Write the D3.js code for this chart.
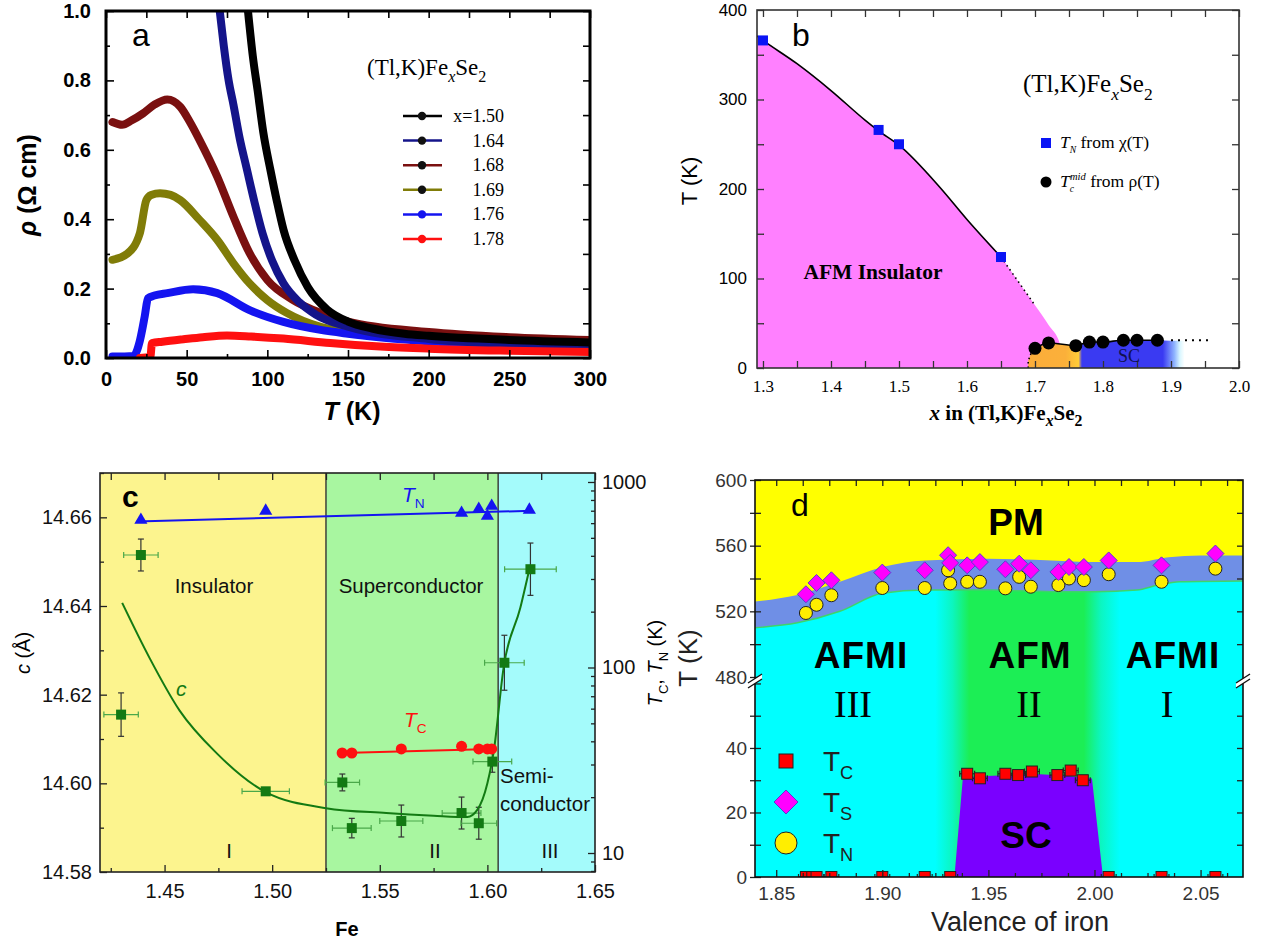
<!DOCTYPE html>
<html>
<head>
<meta charset="utf-8">
<script src="https://cdn.jsdelivr.net/npm/d3@7"></script>
<style>
body { margin: 0; background: #fff; }
svg { display: block; }
</style>
</head>
<body>
<div id="chart"></div>
<script>
// ---------- panel a : rho(T), pairs of [T (K), rho (Ohm cm)]
const rho150 = [[88,1.0],[91,0.87],[94,0.77],[97.5,0.65],[102,0.54],[106,0.45],[110,0.37],[117,0.28],[125,0.205],[137,0.14],[150,0.105],[165,0.085],[185,0.07],[200,0.064],[250,0.052],[300,0.045]];
const rho164 = [[70.5,1.0],[73,0.9],[76,0.8],[79,0.73],[83,0.63],[87,0.55],[92,0.45],[97,0.36],[103,0.28],[110,0.215],[120,0.16],[130,0.125],[150,0.09],[200,0.055],[250,0.04],[300,0.033]];
const rho168 = [[4,0.68],[10,0.672],[16,0.685],[23,0.705],[30,0.73],[38,0.745],[46,0.724],[52,0.68],[58,0.628],[69,0.522],[79,0.407],[89,0.302],[100,0.225],[116,0.167],[133,0.13],[150,0.105],[200,0.075],[250,0.06],[300,0.052]];
const rho169 = [[4,0.283],[13,0.3],[21,0.36],[25,0.455],[28,0.47],[33.5,0.475],[40,0.47],[46,0.455],[58,0.398],[69,0.34],[79,0.273],[89,0.215],[100,0.167],[112,0.13],[133,0.09],[150,0.075],[200,0.055],[250,0.045],[300,0.04]];
const rho176 = [[4,0.004],[17,0.006],[21,0.05],[24,0.12],[26,0.172],[30,0.18],[38,0.187],[54,0.198],[69,0.187],[89,0.138],[110,0.104],[133,0.081],[150,0.07],[200,0.048],[250,0.036],[300,0.03]];
const rho178 = [[21,0.0],[27.5,0.004],[28.5,0.043],[35,0.047],[48,0.054],[60,0.06],[75,0.065],[90,0.062],[110,0.056],[139,0.043],[170,0.033],[200,0.027],[250,0.021],[300,0.017]];
const aLabels = ["x=1.50", "1.64", "1.68", "1.69", "1.76", "1.78"];

// ---------- panel b : phase diagram of (Tl,K)FexSe2
const tnX = [1.30, 1.47, 1.50, 1.65];
const tnT = [366, 266, 250, 124];
const tcX = [1.70, 1.72, 1.76, 1.78, 1.80, 1.83, 1.85, 1.88];
const tcT = [22, 28, 25, 29, 29, 31, 31, 31];
const afmLineX = [1.291, 1.30, 1.35, 1.40, 1.45, 1.47, 1.50, 1.56, 1.60, 1.65];
const afmLineT = [371, 366, 340, 310, 277, 265, 249, 202, 166, 124];
const afmDotX = [1.65, 1.675, 1.70];
const afmDotT = [124, 97, 70];
const afmEdgeX = [1.70, 1.72, 1.737, 1.745];
const afmEdgeT = [70, 48, 26, 0];
const scEdgeX = [1.69, 1.69, 1.694, 1.70];
const scEdgeT = [0, 8, 16, 22];
const scTailX = [1.90, 1.955];
const scTailT = [31, 31];

// ---------- panel c : lattice constant c and TC, TN vs Fe
const cFe = [1.4298, 1.439, 1.497, 1.5326, 1.537, 1.560, 1.588, 1.596, 1.6023, 1.6079, 1.620];
const cVal = [14.6155, 14.6515, 14.5982, 14.6002, 14.5899, 14.5915, 14.5933, 14.591, 14.6049, 14.6272, 14.6483];
const cFeErr = [0.008, 0.008, 0.011, 0.008, 0.009, 0.010, 0.009, 0.0083, 0.009, 0.0092, 0.012];
const cValErr = [0.0049, 0.0036, 0.0005, 0.0019, 0.0022, 0.0036, 0.0036, 0.0036, 0.0024, 0.0062, 0.0059];
const cFitFe = [1.4303, 1.443, 1.457, 1.4744, 1.497, 1.525, 1.553, 1.575, 1.5907, 1.5953, 1.600, 1.603, 1.6075, 1.6153, 1.6195];
const cFitVal = [14.6407, 14.6283, 14.6164, 14.6067, 14.598, 14.5944, 14.5933, 14.5927, 14.5924, 14.594, 14.600, 14.6074, 14.626, 14.6396, 14.6483];
const cTnFe = [1.439, 1.497, 1.588, 1.596, 1.600, 1.602, 1.6195];
const cTnT = [624, 698, 680, 715, 655, 742, 707];
const cTnLineFe = [1.437, 1.621];
const cTnLineT = [612, 700];
const cTcFe = [1.5325, 1.537, 1.560, 1.588, 1.596, 1.600, 1.602];
const cTcT = [34.6, 34.6, 36.4, 37.6, 36.4, 36.4, 36.4];
const cRegionEdges = [1.42, 1.525, 1.605, 1.65];

// ---------- panel d : T vs valence of iron
const dX = [1.864, 1.869, 1.876, 1.900, 1.920, 1.931, 1.932, 1.940, 1.946, 1.958, 1.9645, 1.970, 1.983, 1.988, 1.995, 2.0067, 2.0316, 2.057];
const dTs = [530.4, 537.3, 538.9, 543.6, 545, 554.2, 549.5, 548, 550, 545.6, 549, 545, 544, 547, 547, 551, 548, 555.2];
const dTn = [519, 524, 529.8, 534.2, 534.2, 545, 537, 538, 538, 534, 541, 535, 536, 540, 539, 542.6, 538, 546];
const dTc0X = [1.864, 1.867, 1.869, 1.876, 1.900, 1.920, 1.932, 2.0067, 2.0316, 2.057];
const dTcX = [1.940, 1.946, 1.958, 1.964, 1.9705, 1.9825, 1.9888, 1.9945];
const dTcT = [32, 30.6, 32, 31.6, 32.7, 31.6, 33, 30];
const dUpperX = [1.84, 1.86, 1.88, 1.90, 1.92, 1.95, 1.98, 2.00, 2.02, 2.035, 2.05, 2.07];
const dUpperT = [526, 530, 538, 547, 551, 552, 551, 550, 550, 553, 554, 554];
const dLowerX = [1.84, 1.86, 1.88, 1.90, 1.92, 1.95, 1.98, 2.00, 2.02, 2.03, 2.04, 2.07];
const dLowerT = [510, 513, 520, 531, 533, 533, 532, 532, 533, 536, 538, 538.5];
const dScX = [1.934, 1.938, 1.955, 1.97, 1.985, 1.9988, 2.004];
const dScT = [0, 31, 31.5, 32, 31.5, 30.5, 0];

const SANS = "'Liberation Sans', Arial, sans-serif";
const SERIF = "'Liberation Serif', 'Times New Roman', serif";
const zip = (a, b) => a.map((v, i) => [v, b[i]]);

const svg = d3.select("#chart").append("svg")
    .attr("width", 1266).attr("height", 943)
    .style("font-family", SANS);
svg.append("rect").attr("width", 1266).attr("height", 943).attr("fill", "#fff");
const defs = svg.append("defs");

// axis with ticks pointing into the plot
function addAxis(parent, orient, scale, pos, values, size, fmt, pad, st) {
    st = st || {};
    const gen = { bottom: d3.axisBottom, top: d3.axisTop, left: d3.axisLeft, right: d3.axisRight }[orient](scale)
        .tickValues(values).tickSize(size).tickPadding(pad)
        .tickFormat(fmt || (() => ""));
    const horiz = orient === "bottom" || orient === "top";
    const g = parent.append("g")
        .attr("transform", horiz ? `translate(0,${pos})` : `translate(${pos},0)`)
        .call(gen);
    g.select(".domain").remove();
    g.selectAll("line").attr("stroke", st.color || "#000").attr("stroke-width", st.tw || 1.2);
    g.selectAll("text")
        .attr("fill", st.textColor || "#000")
        .style("font-family", st.font || SANS)
        .style("font-size", (st.fs || 16) + "px")
        .style("font-weight", st.weight || "normal");
    return g;
}

// text with italic / sub / sup parts
function rich(parent, x, y, parts, fs, opt) {
    opt = opt || {};
    const t = parent.append("text").attr("x", x).attr("y", y)
        .style("font-size", fs + "px")
        .style("font-family", opt.font || SANS)
        .attr("fill", opt.fill || "#000")
        .attr("text-anchor", opt.anchor || "start");
    if (opt.weight) t.style("font-weight", opt.weight);
    if (opt.rotate) t.attr("transform", `rotate(-90,${x},${y})`);
    let shift = 0;
    parts.forEach(p => {
        const s = t.append("tspan").text(p.t);
        const target = p.sub ? fs * 0.3 : p.sup ? -fs * 0.42 : 0;
        s.attr("dy", target - shift);
        shift = target;
        if (p.dx) s.attr("dx", p.dx);
        if (p.sub || p.sup) s.style("font-size", (fs * (p.scale || 0.65)) + "px");
        if (p.i) s.style("font-style", "italic");
    });
    return t;
}

const range = (a, b, s) => d3.range(a, b + s / 2, s).map(v => +v.toFixed(6));

// =============== PANEL A ===============
(function () {
    const x = d3.scaleLinear().domain([0, 300]).range([106, 590]);
    const y = d3.scaleLinear().domain([0, 1]).range([358, 11]);
    const g = svg.append("g");
    defs.append("clipPath").attr("id", "clipA").append("rect")
        .attr("x", 106).attr("y", 11).attr("width", 484).attr("height", 347);

    const series = [
        { d: rho169, c: "#807c08" },
        { d: rho168, c: "#7a1010" },
        { d: rho176, c: "#1414f0" },
        { d: rho164, c: "#14148a" },
        { d: rho150, c: "#000000" },
        { d: rho178, c: "#ff1010" }
    ];
    const line = d3.line().x(d => x(d[0])).y(d => y(d[1])).curve(d3.curveMonotoneX);
    const cg = g.append("g").attr("clip-path", "url(#clipA)");
    series.forEach(s => {
        cg.append("path").attr("d", line(s.d)).attr("fill", "none")
            .attr("stroke", s.c).attr("stroke-width", 8)
            .attr("stroke-linejoin", "round").attr("stroke-linecap", "round");
    });

    const bs = { fs: 20, weight: "bold", tw: 1.6 };
    addAxis(g, "bottom", x, 358, range(0, 300, 50), -8, d3.format("d"), 14, bs);
    addAxis(g, "bottom", x, 358, range(25, 275, 50), -4, null, 0, bs);
    addAxis(g, "top", x, 11, range(0, 300, 25), -7, null, 0, bs);
    addAxis(g, "left", y, 106, range(0, 1, 0.2), -8, d3.format(".1f"), 15, bs);
    addAxis(g, "left", y, 106, range(0.1, 0.9, 0.2), -4, null, 0, bs);
    addAxis(g, "right", y, 590, range(0, 1, 0.1), -7, null, 0, bs);
    g.append("rect").attr("x", 106).attr("y", 11).attr("width", 484).attr("height", 347)
        .attr("fill", "none").attr("stroke", "#000").attr("stroke-width", 3);

    g.append("text").attr("x", 132).attr("y", 46).text("a").style("font-size", "32px");
    rich(g, 36, 185, [{ t: "ρ", i: true }, { t: " (Ω cm)" }], 25, { anchor: "middle", rotate: true, weight: "bold" });
    rich(g, 352, 420, [{ t: "T", i: true }, { t: " (K)" }], 25, { anchor: "middle", weight: "bold" });

    rich(g, 367, 75, [{ t: "(Tl,K)Fe" }, { t: "x", sub: true, i: true, scale: 0.7 }, { t: "Se" }, { t: "2", sub: true, scale: 0.7 }], 23, { font: SERIF });
    const legCols = ["#000000", "#14148a", "#7a1010", "#807c08", "#1414f0", "#ff1010"];
    aLabels.forEach((lab, i) => {
        const yy = 116 + i * 24.6;
        g.append("line").attr("x1", 403).attr("x2", 442).attr("y1", yy).attr("y2", yy)
            .attr("stroke", legCols[i]).attr("stroke-width", 2.5);
        g.append("circle").attr("cx", 422).attr("cy", yy).attr("r", 4.2)
            .attr("fill", i < 4 ? "#111" : legCols[i]);
        g.append("text").attr("x", 504).attr("y", yy + 6).attr("text-anchor", "end")
            .style("font-family", SERIF).style("font-size", "18px").text(lab);
    });
})();

// =============== PANEL B ===============
(function () {
    const x = d3.scaleLinear().domain([1.2912, 2.0]).range([757, 1239]);
    const y = d3.scaleLinear().domain([0, 400]).range([368, 10]);
    const g = svg.append("g");
    defs.append("clipPath").attr("id", "clipB").append("rect")
        .attr("x", 757).attr("y", 10).attr("width", 482).attr("height", 358);
    const cg = g.append("g").attr("clip-path", "url(#clipB)");

    // AFM insulator region
    const pinkPts = zip(afmLineX, afmLineT).concat(zip(afmDotX, afmDotT).slice(1), zip(afmEdgeX, afmEdgeT).slice(1));
    const area = d3.area().x(d => x(d[0])).y0(y(0)).y1(d => y(d[1])).curve(d3.curveMonotoneX);
    cg.append("path").attr("d", area(pinkPts)).attr("fill", "#ff80ff");

    // SC region with colour gradient
    const grad = defs.append("linearGradient").attr("id", "gradB")
        .attr("gradientUnits", "userSpaceOnUse")
        .attr("x1", x(1.69)).attr("x2", x(1.92)).attr("y1", 0).attr("y2", 0);
    const gx = v => (v - 1.69) / (1.92 - 1.69);
    [[1.69, "#fbad3a"], [1.745, "#fbb03a"], [1.764, "#ffcc38"], [1.769, "#3a3af2"], [1.888, "#3a3af2"],
     [1.905, "#8fb4ff"], [1.913, "#d8f6ff"], [1.92, "#ffffff"]].forEach(s => {
        grad.append("stop").attr("offset", gx(s[0])).attr("stop-color", s[1]);
    });
    const scPts = zip(scEdgeX, scEdgeT).concat(zip(tcX, tcT).slice(1), [[1.90, 30.5], [1.92, 30.5], [1.92, 0]]);
    const lin = d3.line().x(d => x(d[0])).y(d => y(d[1]));
    cg.append("path").attr("d", lin(scPts) + "Z").attr("fill", "url(#gradB)");

    const smooth = d3.line().x(d => x(d[0])).y(d => y(d[1])).curve(d3.curveMonotoneX);
    cg.append("path").attr("d", smooth(zip(afmLineX, afmLineT))).attr("fill", "none")
        .attr("stroke", "#000").attr("stroke-width", 1.6);
    cg.append("path").attr("d", smooth(zip(afmDotX, afmDotT))).attr("fill", "none")
        .attr("stroke", "#000").attr("stroke-width", 1.6).attr("stroke-dasharray", "1.5,3.5");
    cg.append("path").attr("d", lin(zip(scEdgeX, scEdgeT))).attr("fill", "none")
        .attr("stroke", "#000").attr("stroke-width", 1.6).attr("stroke-dasharray", "1.5,3");
    cg.append("path").attr("d", smooth(zip(tcX, tcT))).attr("fill", "none")
        .attr("stroke", "#000").attr("stroke-width", 1.6);
    cg.append("path").attr("d", lin(zip(scTailX, scTailT))).attr("fill", "none")
        .attr("stroke", "#000").attr("stroke-width", 1.8).attr("stroke-dasharray", "2,5");

    cg.selectAll(".tn").data(zip(tnX, tnT)).enter().append("rect")
        .attr("x", d => x(d[0]) - 5).attr("y", d => y(d[1]) - 5)
        .attr("width", 10).attr("height", 10).attr("fill", "#0a14f5");
    cg.selectAll(".tc").data(zip(tcX, tcT)).enter().append("circle")
        .attr("cx", d => x(d[0])).attr("cy", d => y(d[1])).attr("r", 6.5).attr("fill", "#000");

    const st = { fs: 17, color: "#333", tw: 1.3 };
    addAxis(g, "bottom", x, 368, range(1.3, 2.0, 0.1), -7, d3.format(".1f"), 12, Object.assign({ font: SERIF, fs: 18 }, st));
    addAxis(g, "bottom", x, 368, range(1.35, 1.95, 0.1), -7, null, 0, st);
    addAxis(g, "top", x, 10, range(1.3, 2.0, 0.05), -7, null, 0, st);
    addAxis(g, "left", y, 757, range(0, 400, 100), -7, d3.format("d"), 10, st);
    addAxis(g, "left", y, 757, range(50, 350, 100), -7, null, 0, st);
    addAxis(g, "right", y, 1239, range(0, 400, 50), -7, null, 0, st);
    g.append("rect").attr("x", 757).attr("y", 10).attr("width", 482).attr("height", 358)
        .attr("fill", "none").attr("stroke", "#333").attr("stroke-width", 1.6);

    g.append("text").attr("x", 792).attr("y", 46).text("b").style("font-size", "32px");
    g.append("text").attr("x", 697).attr("y", 181).attr("text-anchor", "middle")
        .attr("transform", "rotate(-90,697,181)").style("font-size", "22px").text("T (K)");
    g.append("text").attr("x", 873).attr("y", 279).attr("text-anchor", "middle")
        .style("font-family", SERIF).style("font-weight", "bold").style("font-size", "21.5px").text("AFM Insulator");
    g.append("text").attr("x", 1129).attr("y", 362).attr("text-anchor", "middle")
        .style("font-family", SERIF).style("font-size", "18px").attr("fill", "#111150").text("SC");
    rich(g, 1006, 420, [{ t: "x", i: true }, { t: " in (Tl,K)Fe" }, { t: "x", sub: true, i: true, scale: 0.75 }, { t: "Se" }, { t: "2", sub: true, scale: 0.75 }],
        21, { font: SERIF, anchor: "middle", weight: "bold" });

    rich(g, 1023, 92, [{ t: "(Tl,K)Fe" }, { t: "x", sub: true, i: true, scale: 0.7 }, { t: "Se" }, { t: "2", sub: true, scale: 0.7 }], 25, { font: SERIF });
    g.append("rect").attr("x", 1041).attr("y", 138).attr("width", 10).attr("height", 10).attr("fill", "#0a14f5");
    rich(g, 1060, 148, [{ t: "T", i: true }, { t: "N", sub: true, i: true, scale: 0.55 }, { t: " from χ(T)" }], 17.5, { font: SERIF });
    g.append("circle").attr("cx", 1046).attr("cy", 182).attr("r", 5.5).attr("fill", "#000");
    rich(g, 1060, 187, [{ t: "T", i: true }, { t: "c", sub: true, i: true, scale: 0.55 }, { t: "mid", sup: true, i: true, scale: 0.6, dx: -4 }, { t: " from ρ(T)" }], 17.5, { font: SERIF });
})();

// =============== PANEL C ===============
(function () {
    const x = d3.scaleLinear().domain([1.42, 1.65]).range([100, 595]);
    const y = d3.scaleLinear().domain([14.58, 14.67]).range([872, 473]);
    const yr = d3.scaleLog().domain([7.9, 1118]).range([872, 473]);
    const g = svg.append("g");
    defs.append("clipPath").attr("id", "clipC").append("rect")
        .attr("x", 100).attr("y", 473).attr("width", 495).attr("height", 399);
    const cg = g.append("g").attr("clip-path", "url(#clipC)");

    const regCols = ["#fcf48e", "#a8f6a0", "#a4fbfb"];
    regCols.forEach((c, i) => {
        cg.append("rect").attr("x", x(cRegionEdges[i])).attr("y", 473)
            .attr("width", x(cRegionEdges[i + 1]) - x(cRegionEdges[i])).attr("height", 399).attr("fill", c);
    });
    [1, 2].forEach(i => {
        cg.append("line").attr("x1", x(cRegionEdges[i])).attr("x2", x(cRegionEdges[i]))
            .attr("y1", 473).attr("y2", 872).attr("stroke", "#333").attr("stroke-width", 1.4);
    });

    // c(Fe) with error bars
    const pts = cFe.map((v, i) => ({ x: v, y: cVal[i], ex: cFeErr[i], ey: cValErr[i] }));
    pts.forEach(p => {
        const px = x(p.x), py = y(p.y);
        const xl = x(p.x - p.ex), xr = x(p.x + p.ex);
        cg.append("line").attr("x1", xl).attr("x2", xr).attr("y1", py).attr("y2", py).attr("stroke", "#4aa84a").attr("stroke-width", 1.2);
        [xl, xr].forEach(xx => cg.append("line").attr("x1", xx).attr("x2", xx).attr("y1", py - 3).attr("y2", py + 3).attr("stroke", "#4aa84a").attr("stroke-width", 1.2));
        const yt = y(p.y + p.ey), yb = y(p.y - p.ey);
        cg.append("line").attr("x1", px).attr("x2", px).attr("y1", yt).attr("y2", yb).attr("stroke", "#333").attr("stroke-width", 1.2);
        [yt, yb].forEach(yy => cg.append("line").attr("x1", px - 3).attr("x2", px + 3).attr("y1", yy).attr("y2", yy).attr("stroke", "#333").attr("stroke-width", 1.2));
    });
    const fit = d3.line().x(d => x(d[0])).y(d => y(d[1])).curve(d3.curveMonotoneX);
    cg.append("path").attr("d", fit(zip(cFitFe, cFitVal))).attr("fill", "none").attr("stroke", "#137a13").attr("stroke-width", 2);
    cg.selectAll(".sq").data(pts).enter().append("rect")
        .attr("x", d => x(d.x) - 5).attr("y", d => y(d.y) - 5).attr("width", 10).attr("height", 10).attr("fill", "#137a13");

    // TN, TC on log axis
    const lr = d3.line().x(d => x(d[0])).y(d => yr(d[1]));
    cg.append("path").attr("d", lr(zip(cTnLineFe, cTnLineT))).attr("stroke", "#1414f0").attr("stroke-width", 2).attr("fill", "none");
    cg.selectAll(".tri").data(zip(cTnFe, cTnT)).enter().append("path")
        .attr("d", d3.symbol().type(d3.symbolTriangle).size(75))
        .attr("transform", d => `translate(${x(d[0])},${yr(d[1])})`).attr("fill", "#1414f0");
    cg.append("path").attr("d", lr([[cTcFe[0], cTcT[0]], [cTcFe[cTcFe.length - 1], cTcT[cTcT.length - 1]]]))
        .attr("stroke", "#ff1010").attr("stroke-width", 2).attr("fill", "none");
    cg.selectAll(".cir").data(zip(cTcFe, cTcT)).enter().append("circle")
        .attr("cx", d => x(d[0])).attr("cy", d => yr(d[1])).attr("r", 5.5).attr("fill", "#ff1010");

    const st = { fs: 20, color: "#222", tw: 1.3, textColor: "#111" };
    addAxis(g, "bottom", x, 872, range(1.45, 1.65, 0.05), -7, d3.format(".2f"), 12, st);
    addAxis(g, "bottom", x, 872, range(1.425, 1.625, 0.05), -4, null, 0, st);
    addAxis(g, "top", x, 473, range(1.425, 1.65, 0.025), -7, null, 0, st);
    addAxis(g, "left", y, 100, range(14.58, 14.66, 0.02), -7, d3.format(".2f"), 8, st);
    addAxis(g, "left", y, 100, range(14.59, 14.67, 0.02), -4, null, 0, st);
    const minors = [];
    [1, 10, 100].forEach(dec => d3.range(2, 10).forEach(m => { const v = m * dec; if (v >= 7.9 && v <= 1118) minors.push(v); }));
    addAxis(g, "right", yr, 595, [10, 100, 1000], -7, d3.format("d"), 7, st);
    addAxis(g, "right", yr, 595, minors, -4, null, 0, st);
    g.append("rect").attr("x", 100).attr("y", 473).attr("width", 495).attr("height", 399)
        .attr("fill", "none").attr("stroke", "#222").attr("stroke-width", 1.6);

    const lab = (t, xx, yy, anchor) => g.append("text").attr("x", xx).attr("y", yy)
        .attr("text-anchor", anchor || "middle").style("font-size", "20.5px").attr("fill", "#111").text(t);
    g.append("text").attr("x", 122).attr("y", 507).text("c").style("font-size", "30px").style("font-weight", "bold");
    lab("Insulator", 214, 593);
    lab("Superconductor", 411, 593);
    lab("Semi-", 500, 783, "start");
    lab("conductor", 500, 811, "start");
    lab("I", 229, 858); lab("II", 435, 858); lab("III", 550, 858);
    rich(g, 402, 502, [{ t: "T", i: true }, { t: "N", sub: true }], 21, { fill: "#1414f0" });
    rich(g, 404, 727, [{ t: "T", i: true }, { t: "C", sub: true }], 21, { fill: "#ff1010" });
    g.append("text").attr("x", 176).attr("y", 696).style("font-size", "21px").style("font-style", "italic").attr("fill", "#137a13").text("c");
    rich(g, 30, 653, [{ t: "c", i: true }, { t: " (Å)" }], 20, { anchor: "middle", rotate: true });
    g.append("text").attr("x", 347).attr("y", 936).attr("text-anchor", "middle").style("font-size", "20px").style("font-weight", "bold").text("Fe");
    rich(g, 662, 663, [{ t: "T", i: true }, { t: "C", sub: true }, { t: ", " }, { t: "T", i: true }, { t: "N", sub: true }, { t: " (K)" }], 20, { anchor: "middle", rotate: true });
})();

// =============== PANEL D ===============
(function () {
    const x = d3.scaleLinear().domain([1.84, 2.07]).range([755, 1243]);
    const yHi = d3.scaleLinear().domain([480, 600]).range([677, 480]);
    const yLo = d3.scaleLinear().domain([0, 62]).range([877, 677]);
    const g = svg.append("g");
    defs.append("clipPath").attr("id", "clipD").append("rect")
        .attr("x", 755).attr("y", 480).attr("width", 488).attr("height", 397);
    const cg = g.append("g").attr("clip-path", "url(#clipD)");

    cg.append("rect").attr("x", 755).attr("y", 480).attr("width", 488).attr("height", 397).attr("fill", "#ffff00");
    const up = d3.line().x(d => x(d[0])).y(d => yHi(d[1])).curve(d3.curveMonotoneX);
    cg.append("path").attr("d", up(zip(dUpperX, dUpperT)) + `L${x(2.07)},877L${x(1.84)},877Z`).attr("fill", "#6f8fe6");

    const grad = defs.append("linearGradient").attr("id", "gradD")
        .attr("gradientUnits", "userSpaceOnUse")
        .attr("x1", x(1.925)).attr("x2", x(2.012)).attr("y1", 0).attr("y2", 0);
    const gx = v => (v - 1.925) / (2.012 - 1.925);
    [[1.925, "#00ffff"], [1.933, "#0cf6c0"], [1.941, "#1cee55"], [1.995, "#1cee55"], [2.003, "#0cf6c0"], [2.012, "#00ffff"]].forEach(s => {
        grad.append("stop").attr("offset", gx(s[0])).attr("stop-color", s[1]);
    });
    cg.append("path").attr("d", up(zip(dLowerX, dLowerT)) + `L${x(2.07)},877L${x(1.84)},877Z`).attr("fill", "url(#gradD)");
    cg.append("path").attr("d", up(zip(dLowerX, dLowerT))).attr("fill", "none").attr("stroke", "#3fd46a").attr("stroke-width", 1.5);

    const lo = d3.line().x(d => x(d[0])).y(d => yLo(d[1]));
    cg.append("path").attr("d", lo(zip(dScX, dScT)) + "Z").attr("fill", "#7a00ff");

    // markers
    const ex = 0.0035;
    const tcAll = dTc0X.map(v => [v, 0]).concat(zip(dTcX, dTcT));
    tcAll.forEach(d => {
        const py = yLo(d[1]);
        cg.append("line").attr("x1", x(d[0] - ex)).attr("x2", x(d[0] + ex)).attr("y1", py).attr("y2", py).attr("stroke", "#222").attr("stroke-width", 1.2);
        [d[0] - ex, d[0] + ex].forEach(v => cg.append("line").attr("x1", x(v)).attr("x2", x(v)).attr("y1", py - 3).attr("y2", py + 3).attr("stroke", "#222").attr("stroke-width", 1.2));
    });
    cg.selectAll(".tcd").data(tcAll).enter().append("rect")
        .attr("x", d => x(d[0]) - 5.5).attr("y", d => yLo(d[1]) - 5.5).attr("width", 11).attr("height", 11)
        .attr("fill", "#ff0000").attr("stroke", "#222").attr("stroke-width", 1);
    cg.selectAll(".tnd").data(zip(dX, dTn)).enter().append("circle")
        .attr("cx", d => x(d[0])).attr("cy", d => yHi(d[1])).attr("r", 6.5)
        .attr("fill", "#ffee00").attr("stroke", "#222").attr("stroke-width", 1);
    cg.selectAll(".tsd").data(zip(dX, dTs)).enter().append("path")
        .attr("d", "M0,-8.5L8.5,0L0,8.5L-8.5,0Z")
        .attr("transform", d => `translate(${x(d[0])},${yHi(d[1])})`)
        .attr("fill", "#ff00ff").attr("stroke", "#5a3cd0").attr("stroke-width", 1);

    const st = { fs: 19, color: "#222", tw: 1.3, textColor: "#333" };
    addAxis(g, "bottom", x, 877, range(1.85, 2.05, 0.05), -7, d3.format(".2f"), 10, st);
    addAxis(g, "bottom", x, 877, range(1.8625, 2.0625, 0.0125).filter(v => Math.abs(v / 0.05 - Math.round(v / 0.05)) > 0.01), -4, null, 0, st);
    addAxis(g, "top", x, 480, range(1.85, 2.0625, 0.0125), -6, null, 0, st);
    addAxis(g, "left", yHi, 755, [480, 520, 560, 600], -6, d3.format("d"), 8, st);
    addAxis(g, "left", yHi, 755, [500, 540, 580], -6, null, 0, st);
    addAxis(g, "left", yHi, 755, range(480, 600, 20), 5, null, 0, st);
    addAxis(g, "left", yLo, 755, [0, 20, 40], -6, d3.format("d"), 8, st);
    addAxis(g, "left", yLo, 755, [10, 30, 50, 60], -6, null, 0, st);
    addAxis(g, "left", yLo, 755, range(0, 60, 10), 5, null, 0, st);
    addAxis(g, "right", yHi, 1243, range(500, 600, 20), -6, null, 0, st);
    addAxis(g, "right", yLo, 1243, range(10, 60, 10), -6, null, 0, st);
    g.append("rect").attr("x", 755).attr("y", 480).attr("width", 488).attr("height", 397)
        .attr("fill", "none").attr("stroke", "#111").attr("stroke-width", 1.6);

    // axis breaks
    [755, 1243].forEach(ax => {
        g.append("path").attr("d", `M${ax - 7},683L${ax + 7},674L${ax + 7},679L${ax - 7},688Z`).attr("fill", "#fff");
        g.append("line").attr("x1", ax - 7).attr("y1", 683).attr("x2", ax + 7).attr("y2", 674).attr("stroke", "#111").attr("stroke-width", 1.4);
        g.append("line").attr("x1", ax - 7).attr("y1", 688).attr("x2", ax + 7).attr("y2", 679).attr("stroke", "#111").attr("stroke-width", 1.4);
    });

    g.append("text").attr("x", 791).attr("y", 516).text("d").style("font-size", "32px");
    const big = (t, xx, yy, fs) => g.append("text").attr("x", xx).attr("y", yy).attr("text-anchor", "middle")
        .style("font-size", fs + "px").style("font-weight", "bold").text(t);
    big("PM", 1016, 535, 37);
    big("AFMI", 861, 668, 37).style("letter-spacing", "1px");
    big("AFM", 1030, 668, 37).style("letter-spacing", "1px");
    big("AFMI", 1173, 668, 37).style("letter-spacing", "1px");
    big("SC", 1026, 848, 37);
    const rom = (t, xx) => g.append("text").attr("x", xx).attr("y", 717).attr("text-anchor", "middle")
        .style("font-family", SERIF).style("font-size", "38px").text(t);
    rom("III", 853); rom("II", 1029); rom("I", 1167);

    // legend
    g.append("rect").attr("x", 779).attr("y", 754).attr("width", 14).attr("height", 14)
        .attr("fill", "#ff0000").attr("stroke", "#222").attr("stroke-width", 1);
    g.append("path").attr("d", "M786,790L798,802L786,814L774,802Z").attr("fill", "#ff00ff").attr("stroke", "#5a3cd0").attr("stroke-width", 1);
    g.append("circle").attr("cx", 786).attr("cy", 843).attr("r", 11).attr("fill", "#ffee00").attr("stroke", "#222").attr("stroke-width", 1);
    rich(g, 823, 771, [{ t: "T" }, { t: "C", sub: true }], 28, { fill: "#222" });
    rich(g, 823, 812, [{ t: "T" }, { t: "S", sub: true }], 28, { fill: "#222" });
    rich(g, 823, 853, [{ t: "T" }, { t: "N", sub: true }], 28, { fill: "#222" });

    g.append("text").attr("x", 697).attr("y", 658).attr("text-anchor", "middle")
        .attr("transform", "rotate(-90,697,658)").style("font-size", "26px").attr("fill", "#222").text("T (K)");
    g.append("text").attr("x", 1020).attr("y", 931).attr("text-anchor", "middle")
        .style("font-size", "27px").attr("fill", "#222").text("Valence of iron");
})();
</script>
</body>
</html>
